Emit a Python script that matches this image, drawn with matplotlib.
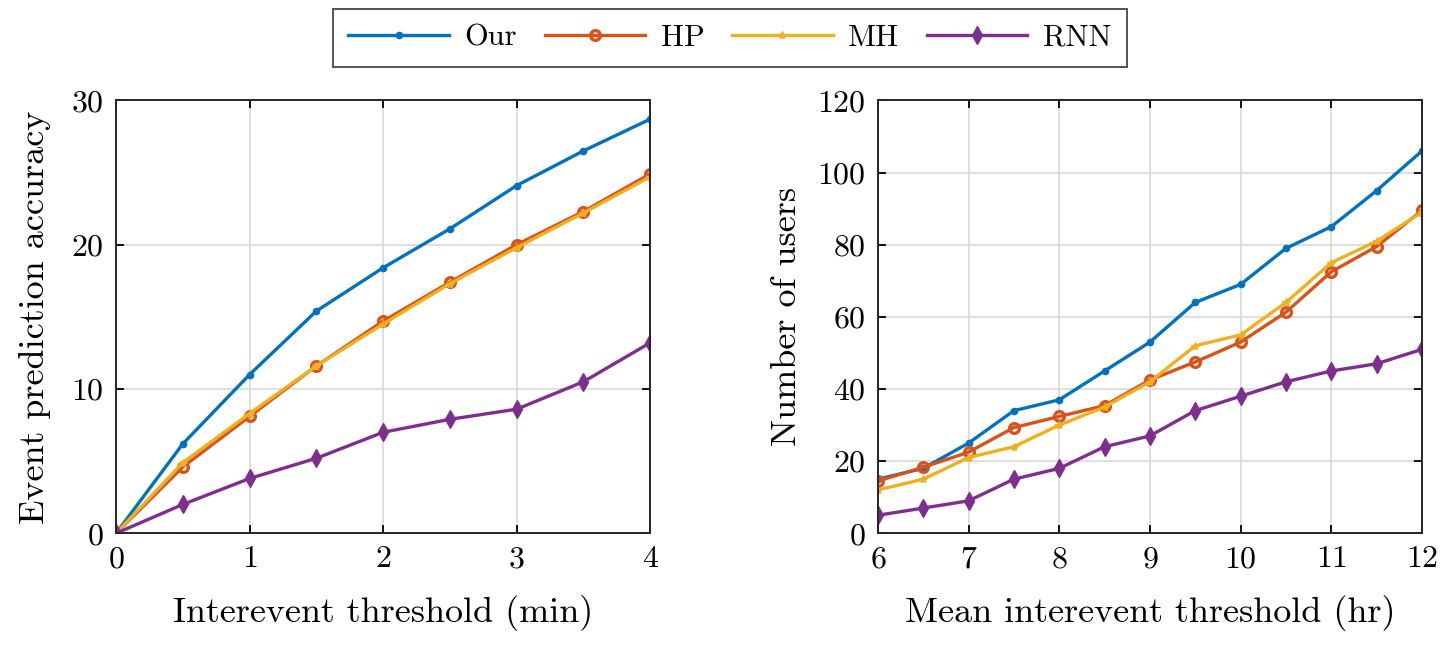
import numpy as np
import matplotlib
matplotlib.use("Agg")
import matplotlib.pyplot as plt

plt.rcParams['font.family'] = ['cmr10', 'DejaVu Serif']
plt.rcParams['axes.formatter.use_mathtext'] = True
plt.rcParams['mathtext.fontset'] = 'cm'

## data ##
x_min = [0, 0.5, 1, 1.5, 2, 2.5, 3, 3.5, 4]
acc_our = [0, 6.2, 11.0, 15.4, 18.4, 21.1, 24.1, 26.5, 28.7]
acc_hp = [0, 4.6, 8.1, 11.6, 14.7, 17.4, 20.0, 22.3, 24.9]
acc_mh = [0, 4.9, 8.3, 11.6, 14.5, 17.3, 19.8, 22.2, 24.7]
acc_rnn = [0, 2.0, 3.8, 5.2, 7.0, 7.9, 8.6, 10.5, 13.2]

x_hr = [6, 6.5, 7, 7.5, 8, 8.5, 9, 9.5, 10, 10.5, 11, 11.5, 12]
users_our = [15, 18, 25, 34, 37, 45, 53, 64, 69, 79, 85, 95, 106]
users_hp = [14.5, 18.3, 22.5, 29.3, 32.4, 35.4, 42.5, 47.5, 53, 61.3, 72.5, 79.5, 89.5]
users_mh = [12, 15, 21, 24, 30, 35, 42, 52, 55, 64, 75, 81, 89]
users_rnn = [5, 7, 9, 15, 18, 24, 27, 34, 38, 42, 45, 47, 51]

labels = ['Our', 'HP', 'MH', 'RNN']
colors = ['#0072BD', '#D95319', '#EDB120', '#7E2F8E']

def draw(ax, x, series):
	# one line per method, matlab style markers
	ax.plot(x, series[0], color=colors[0], lw=2.4, marker='.', ms=9, label=labels[0])
	ax.plot(x, series[1], color=colors[1], lw=2.4, marker='o', ms=7, mfc='none', mew=2.4, label=labels[1])
	ax.plot(x, series[2], color=colors[2], lw=2.4, marker='*', ms=6, label=labels[2])
	ax.plot(x, series[3], color=colors[3], lw=2.4, marker='d', ms=9, label=labels[3])
	ax.grid(True, color='#dcdcdc', lw=1.3)
	ax.set_axisbelow(True)
	ax.tick_params(direction='in', top=True, right=True, labelsize=23, length=6, width=1.3, pad=9)
	for s in ax.spines.values():
		s.set_linewidth(1.4)
		s.set_color('#262626')

fig = plt.figure(figsize=(14.51, 6.48), dpi=100)
ax1 = fig.add_axes([0.080, 0.177, 0.368, 0.668])
ax2 = fig.add_axes([0.605, 0.177, 0.375, 0.668])

draw(ax1, x_min, [acc_our, acc_hp, acc_mh, acc_rnn])
ax1.set_xlim(0, 4)
ax1.set_ylim(0, 30)
ax1.set_xticks([0, 1, 2, 3, 4])
ax1.set_yticks([0, 10, 20, 30])
ax1.set_xlabel('Interevent threshold (min)', fontsize=26, labelpad=16)
ax1.set_ylabel('Event prediction accuracy', fontsize=26, labelpad=14)

draw(ax2, x_hr, [users_our, users_hp, users_mh, users_rnn])
ax2.set_xlim(6, 12)
ax2.set_ylim(0, 120)
ax2.set_xticks(range(6, 13))
ax2.set_yticks(range(0, 121, 20))
ax2.set_xlabel('Mean interevent threshold (hr)', fontsize=26, labelpad=16)
ax2.set_ylabel('Number of users', fontsize=26, labelpad=10)

handles, lbls = ax1.get_legend_handles_labels()
leg = fig.legend(handles, lbls, loc='upper center', bbox_to_anchor=(0.503, 1.0), ncol=4,
	fontsize=22, frameon=True, fancybox=False, edgecolor='#262626', handlelength=3.3,
	columnspacing=0.9, handletextpad=0.5, borderpad=0.5, borderaxespad=0.3)
leg.get_frame().set_linewidth(1.4)

fig.savefig('out.png', dpi=100, facecolor='white')
